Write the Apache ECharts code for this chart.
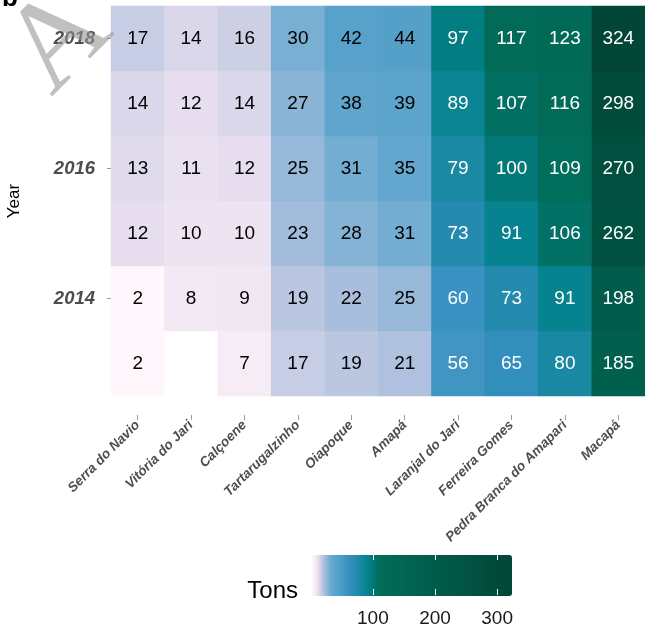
<!DOCTYPE html>
<html>
<head>
<meta charset="utf-8">
<script src="https://cdn.jsdelivr.net/npm/echarts@6/dist/echarts.min.js"></script>
<style>
html,body{margin:0;padding:0;background:#fff;}
#chart{width:645px;height:626px;}
</style>
</head>
<body>
<div id="chart"></div>
<script>
// ---- data ----
const municipalities = ['Serra do Navio','Vitória do Jari','Calçoene','Tartarugalzinho','Oiapoque','Amapá','Laranjal do Jari','Ferreira Gomes','Pedra Branca do Amapari','Macapá'];
const years = ['2013','2014','2015','2016','2017','2018'];
const tons2013 = [2, null, 7, 17, 19, 21, 56, 65, 80, 185];
const tons2014 = [2, 8, 9, 19, 22, 25, 60, 73, 91, 198];
const tons2015 = [12, 10, 10, 23, 28, 31, 73, 91, 106, 262];
const tons2016 = [13, 11, 12, 25, 31, 35, 79, 100, 109, 270];
const tons2017 = [14, 12, 14, 27, 38, 39, 89, 107, 116, 298];
const tons2018 = [17, 14, 16, 30, 42, 44, 97, 117, 123, 324];
const legendTicks = [100, 200, 300];
const tonsByYear = [tons2013, tons2014, tons2015, tons2016, tons2017, tons2018];

// ---- colour scale (PuBuGn) ----
const anchors = [
  [2, '#fff7fb'], [11, '#ece2f0'], [15.5, '#d0d1e6'], [22.5, '#a6bddb'],
  [33, '#67a9cf'], [62, '#3690c0'], [94, '#02818a'], [110, '#016c59'], [324, '#014636']
];
function hex2rgb(h){return [parseInt(h.substr(1,2),16),parseInt(h.substr(3,2),16),parseInt(h.substr(5,2),16)];}
function colorAt(v){
  for(let i=0;i<anchors.length-1;i++){
    const a=anchors[i], b=anchors[i+1];
    if(v<=b[0]){
      const t=(v-a[0])/(b[0]-a[0]);
      const ca=hex2rgb(a[1]), cb=hex2rgb(b[1]);
      const c=ca.map((x,k)=>Math.round(x+(cb[k]-x)*t));
      return 'rgb('+c.join(',')+')';
    }
  }
  return anchors[anchors.length-1][1];
}
const vmin = 2, vmax = 324;
const rampColors = [];
for(let v=vmin; v<=vmax; v+=2){ rampColors.push(colorAt(v)); }

// ---- build heatmap data ----
const cells = [];
tonsByYear.forEach((row, yi) => {
  row.forEach((val, xi) => {
    if(val === null) return;
    cells.push({value:[xi, yi, val], label:{color: val > 50 ? '#ffffff' : '#000000'}});
  });
});

const FONT = 'Liberation Sans, Arial, Helvetica, sans-serif';
const chart = echarts.init(document.getElementById('chart'));
chart.setOption({
  animation:false,
  backgroundColor:'#ffffff',
  grid:[
    {left:111, right:0, top:6, height:390, outerBoundsMode:'none', containLabel:false},
    {left:312, width:200, top:554, height:41, outerBoundsMode:'none', containLabel:false}
  ],
  xAxis:[
    {type:'category', gridIndex:0, data:municipalities, position:'bottom', offset:19,
     axisLine:{show:false}, axisTick:{show:true, length:5, alignWithLabel:true, lineStyle:{color:'#999999'}},
     axisLabel:{rotate:45, margin:8, fontSize:13.5, fontStyle:'italic', fontWeight:'bold', color:'#4d4d4d', fontFamily:FONT, interval:0},
     splitLine:{show:false}},
    {type:'value', gridIndex:1, min:vmin, max:vmax, position:'bottom', z:10,
     axisLine:{show:false}, splitLine:{show:false},
     axisTick:{show:true, inside:true, length:6, customValues:legendTicks, lineStyle:{color:'#ffffff', width:1}},
     axisLabel:{show:true, customValues:legendTicks, margin:14, fontSize:19, color:'#1a1a1a', fontFamily:FONT}},
    {type:'value', gridIndex:1, min:vmin, max:vmax, position:'top', z:10,
     axisLine:{show:false}, splitLine:{show:false},
     axisTick:{show:true, inside:true, length:6, customValues:legendTicks, lineStyle:{color:'#ffffff', width:1}},
     axisLabel:{show:false}}
  ],
  yAxis:[
    {type:'category', gridIndex:0, data:years,
     name:'Year', nameLocation:'middle', nameRotate:90, nameGap:88,
     nameTextStyle:{fontSize:17, color:'#000000', fontFamily:FONT},
     axisLine:{show:false},
     axisTick:{show:true, length:4, alignWithLabel:true, interval:(i)=> i%2===1, lineStyle:{color:'#999999'}},
     axisLabel:{interval:(i)=> i%2===1, margin:16, fontSize:18.5, fontStyle:'italic', fontWeight:'bold', color:'#4d4d4d', fontFamily:FONT},
     splitLine:{show:false}},
    {type:'value', gridIndex:1, show:false, min:0, max:1}
  ],
  visualMap:{
    type:'continuous', seriesIndex:0, min:vmin, max:vmax, orient:'horizontal',
    left:297, top:540, itemWidth:41, itemHeight:200, calculable:false, text:null, showLabel:false,
    hoverLink:false,
    inRange:{color:rampColors}
  },
  series:[
    {type:'heatmap', xAxisIndex:0, yAxisIndex:0, data:cells,
     label:{show:true, fontSize:19, fontFamily:FONT},
     itemStyle:{borderWidth:0},
     emphasis:{disabled:true}}
  ],
  graphic:[
    {type:'text', x:298, y:591, style:{text:'Tons', fontSize:24, fontFamily:FONT, fill:'#000000', align:'right', verticalAlign:'middle'}},
    {type:'text', x:2, y:12, style:{text:'b', fontSize:26, fontWeight:'bold', fontFamily:FONT, fill:'#000000', align:'left', verticalAlign:'bottom'}},
    {type:'text', x:60, y:42, rotation:Math.PI/4, z:100, style:{text:'A', fontSize:125, fontFamily:'Liberation Serif, Times New Roman, serif', fill:'rgba(150,150,150,0.6)', align:'center', verticalAlign:'middle'}}
  ]
});
</script>
</body>
</html>
